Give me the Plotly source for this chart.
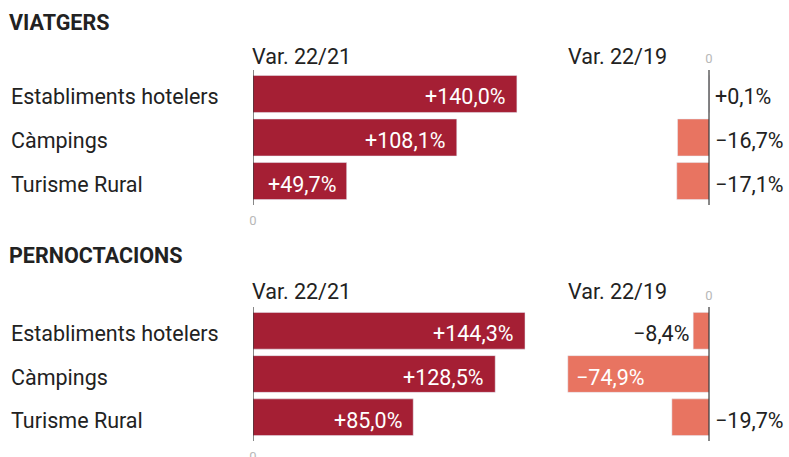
import plotly.graph_objects as go

# Dades
categories = ["Establiments hotelers", "Càmpings", "Turisme Rural"]
viatgers_22_21 = [140.0, 108.1, 49.7]
viatgers_22_19 = [0.1, -16.7, -17.1]
pernoct_22_21 = [144.3, 128.5, 85.0]
pernoct_22_19 = [-8.4, -74.9, -19.7]

sections = ["VIATGERS", "PERNOCTACIONS"]
col_titles = ["Var. 22/21", "Var. 22/19"]

W, H = 789, 457
DARK = "#a51f34"
SALMON = "#e87461"
TEXT = "#222222"
FONT = "Roboto"
FS = 21.5

# on va cada etiqueta de 22/19 (estil)
pos_2219 = {
    "VIATGERS": ["right_of_zero", "right_of_zero", "right_of_zero"],
    "PERNOCTACIONS": ["left_of_bar", "inside", "right_of_zero"],
}


def fmt(v):
    s = f"{abs(v):.1f}".replace(".", ",")
    return ("+" if v >= 0 else "\u2212") + s + "%"


def px(x):
    return x / W


def py(y):
    return 1 - y / H


scale = 1.885
# (top, bottom) del domini vertical de cada secció en px
sec_dom = [(70, 205), (307, 441)]
header_y = [22, 255]
title_y = [56, 291]
left_dom = (253, 553)
right_dom = (560, 789)
zero_right = 709
TY = -3  # el text de les files queda una mica per sota del centre de la barra

fig = go.Figure()
annotations = []
shapes = []

data = [(viatgers_22_21, viatgers_22_19), (pernoct_22_21, pernoct_22_19)]

for i, (sec, (v21, v19)) in enumerate(zip(sections, data)):
    n = 2 * i + 1
    xl, yl = f"x{n}" if n > 1 else "x", f"y{n}" if n > 1 else "y"
    xr, yr = f"x{n+1}", f"y{n+1}"

    fig.add_trace(go.Bar(y=categories, x=v21, orientation="h", marker_color=DARK,
                         xaxis=xl, yaxis=yl, hoverinfo="skip"))
    fig.add_trace(go.Bar(y=categories, x=v19, orientation="h", marker_color=SALMON,
                         xaxis=xr, yaxis=yr, hoverinfo="skip"))

    top, bot = sec_dom[i]
    ydom = [py(bot), py(top)]
    yax = dict(domain=ydom, type="category", categoryorder="array", categoryarray=categories,
               range=[2.55, -0.55], showticklabels=False, showgrid=False, zeroline=False,
               fixedrange=True, automargin=False)
    fig.layout[("yaxis" if n == 1 else f"yaxis{n}")] = dict(yax, anchor=xl)
    fig.layout[f"yaxis{n+1}"] = dict(yax, anchor=xr)

    xbase = dict(showgrid=False, zeroline=False, tickvals=[0], ticktext=["0"], ticks="",
                 tickfont=dict(family=FONT, size=13, color="#b8b8b8"), fixedrange=True,
                 automargin=False)
    fig.layout[("xaxis" if n == 1 else f"xaxis{n}")] = dict(
        xbase, domain=[px(left_dom[0]), px(left_dom[1])],
        range=[0, (left_dom[1] - left_dom[0]) / scale], anchor=yl, side="bottom",
        ticklabelstandoff=6)
    fig.layout[f"xaxis{n+1}"] = dict(
        xbase, domain=[px(right_dom[0]), px(right_dom[1])],
        range=[-(zero_right - right_dom[0]) / scale, (right_dom[1] - zero_right) / scale],
        anchor=yr, side="top", ticklabelstandoff=3)

    # línies de zero
    for xa, ya in ((xl, yl), (xr, yr)):
        shapes.append(dict(type="line", xref=xa, yref=f"{ya} domain", x0=0, x1=0, y0=0, y1=1,
                           line=dict(color="#111111", width=1)))

    # capçaleres
    annotations.append(dict(text=f"<b>{sec}</b>", xref="paper", yref="paper", x=px(7),
                            y=py(header_y[i]), xanchor="left", yanchor="middle", showarrow=False,
                            font=dict(family=FONT, size=FS, color=TEXT)))
    annotations.append(dict(text=col_titles[0], xref="paper", yref="paper", x=px(250),
                            y=py(title_y[i]), xanchor="left", yanchor="middle", showarrow=False,
                            font=dict(family=FONT, size=FS, color=TEXT)))
    annotations.append(dict(text=col_titles[1], xref="paper", yref="paper", x=px(566),
                            y=py(title_y[i]), xanchor="left", yanchor="middle", showarrow=False,
                            font=dict(family=FONT, size=FS, color=TEXT)))

    for j, cat in enumerate(categories):
        annotations.append(dict(text=cat, xref="paper", yref=yl, x=px(9), y=cat, yshift=TY,
                                xanchor="left", yanchor="middle", showarrow=False,
                                font=dict(family=FONT, size=FS, color=TEXT)))
        annotations.append(dict(text=fmt(v21[j]), xref=xl, yref=yl, x=v21[j], y=cat,
                                xanchor="right", xshift=-9, yshift=TY, yanchor="middle",
                                showarrow=False,
                                font=dict(family=FONT, size=FS, color="white")))
        p = pos_2219[sec][j]
        if p == "right_of_zero":
            a = dict(x=0, xanchor="left", xshift=4, color=TEXT)
        elif p == "left_of_bar":
            a = dict(x=v19[j], xanchor="right", xshift=-2, color=TEXT)
        else:
            a = dict(x=v19[j], xanchor="left", xshift=6, color="white")
        annotations.append(dict(text=fmt(v19[j]), xref=xr, yref=yr, x=a["x"], y=cat,
                                xanchor=a["xanchor"], xshift=a["xshift"], yshift=TY,
                                yanchor="middle", showarrow=False,
                                font=dict(family=FONT, size=FS, color=a["color"])))

fig.update_layout(
    width=W, height=H,
    margin=dict(l=0, r=0, t=0, b=0),
    paper_bgcolor="white", plot_bgcolor="white",
    showlegend=False, bargap=0.15,
    annotations=annotations, shapes=shapes,
    font=dict(family=FONT),
)

# sense marge al body perquè la figura ocupi tota la finestra
fig.write_html("out.html", config={"displayModeBar": False},
               post_script="document.body.style.margin='0';document.body.style.overflow='hidden';")
